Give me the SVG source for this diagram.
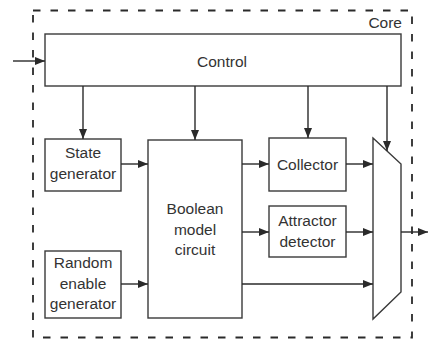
<svg xmlns="http://www.w3.org/2000/svg" width="428" height="340" viewBox="0 0 428 340">
<defs>
<marker id="ah" viewBox="0 0 10 8" refX="10" refY="4" markerWidth="10" markerHeight="8" markerUnits="userSpaceOnUse" orient="auto">
<path d="M0,0 L10,4 L0,8 z" fill="#2a2a2a"/>
</marker>
<style>
.box{fill:#fff;stroke:#3a3a3a;stroke-width:1.4}
.lbl{font-family:"Liberation Sans",Arial,sans-serif;font-size:15.5px;fill:#333;text-anchor:middle}
.ln{fill:none;stroke:#2a2a2a;stroke-width:1.4;marker-end:url(#ah)}
.core{fill:none;stroke:#2a2a2a;stroke-width:1.8;stroke-dasharray:7.5 10}
</style>
</defs>
<rect width="428" height="340" fill="#fff"/>
<g id="core">
<rect class="core" x="33" y="10.5" width="379" height="327"/>
<text class="lbl" x="402" y="28" style="text-anchor:end">Core</text>
</g>
<g id="control">
<rect class="box" x="45" y="34" width="356" height="52"/>
<text class="lbl" x="222" y="67">Control</text>
</g>
<g id="state">
<rect class="box" x="45" y="139" width="76" height="52"/>
<text class="lbl" x="83" y="158">State</text>
<text class="lbl" x="83" y="179">generator</text>
</g>
<g id="random">
<rect class="box" x="45" y="251" width="76" height="67"/>
<text class="lbl" x="83" y="268">Random</text>
<text class="lbl" x="83" y="289">enable</text>
<text class="lbl" x="83" y="309">generator</text>
</g>
<g id="boolean">
<rect class="box" x="148" y="140" width="94" height="178"/>
<text class="lbl" x="195" y="214">Boolean</text>
<text class="lbl" x="195" y="235">model</text>
<text class="lbl" x="195" y="255">circuit</text>
</g>
<g id="collector">
<rect class="box" x="269" y="138" width="77" height="53"/>
<text class="lbl" x="307.5" y="170">Collector</text>
</g>
<g id="attractor">
<rect class="box" x="269" y="206" width="77" height="51"/>
<text class="lbl" x="307.5" y="226">Attractor</text>
<text class="lbl" x="307.5" y="247">detector</text>
</g>
<g id="mux">
<path class="box" d="M373,138 L401,164 L401,292 L373,319 Z"/>
</g>
<g id="connectors">
<line class="ln" x1="13" y1="61" x2="45" y2="61"/>
<line class="ln" x1="83" y1="86" x2="83" y2="139"/>
<line class="ln" x1="195" y1="86" x2="195" y2="140"/>
<line class="ln" x1="308" y1="86" x2="308" y2="138"/>
<line class="ln" x1="387" y1="86" x2="387" y2="151"/>
<line class="ln" x1="121" y1="164" x2="148" y2="164"/>
<line class="ln" x1="121" y1="284" x2="148" y2="284"/>
<line class="ln" x1="242" y1="164" x2="269" y2="164"/>
<line class="ln" x1="242" y1="232" x2="269" y2="232"/>
<line class="ln" x1="242" y1="284" x2="373" y2="284"/>
<line class="ln" x1="346" y1="164" x2="373" y2="164"/>
<line class="ln" x1="346" y1="232" x2="373" y2="232"/>
<line class="ln" x1="401" y1="232" x2="428" y2="232"/>
</g>
</svg>
